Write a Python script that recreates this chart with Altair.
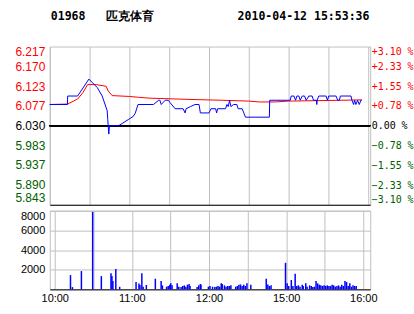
import altair as alt
import pandas as pd

# ---- data ----
prev_close = 6.030

price_min = [0, 13.3, 13.5, 21, 29.5, 35.8, 39.5, 43.3, 43.7, 44.5, 45, 52, 59.5, 63, 64.5, 66.5,
             78.2, 82, 83, 84, 87, 89.5, 90.5, 94.5, 100.5, 102, 102.75, 106, 109.5, 112.5, 113.5,
             120, 121.5, 125, 125.75, 126.5, 132.5, 133.5, 134.5, 135.5, 136.5, 138.5, 141, 142,
             145, 147.5, 165.5, 165.75, 181.25, 182, 184, 185.25, 186.25, 187.75, 188.75, 190.25,
             192, 193.25, 195.25, 197.75, 198.75, 201, 201.25, 201.5, 202.75, 208.25, 209.25,
             210.25, 215.75, 217, 218.25, 219, 227, 227.75, 229, 229.75, 230.75, 232, 233.25,
             234.5, 235.25]
price_val = [6.08, 6.08, 6.10, 6.10, 6.14, 6.12, 6.10, 6.065, 6.045, 6.01, 6.03, 6.03, 6.045, 6.052,
             6.06, 6.08, 6.08, 6.09, 6.09, 6.08, 6.09, 6.09, 6.085, 6.07, 6.07, 6.06, 6.07, 6.075,
             6.08, 6.08, 6.06, 6.06, 6.07, 6.07, 6.06, 6.07, 6.07, 6.08, 6.075, 6.09, 6.075, 6.08,
             6.08, 6.07, 6.07, 6.05, 6.05, 6.09, 6.09, 6.10, 6.10, 6.09, 6.10, 6.10, 6.09, 6.10,
             6.10, 6.09, 6.10, 6.10, 6.09, 6.09, 6.08, 6.09, 6.10, 6.10, 6.09, 6.10, 6.10, 6.09,
             6.09, 6.10, 6.10, 6.09, 6.08, 6.09, 6.08, 6.09, 6.08, 6.09, 6.09]

avg_min = [0, 13.5, 16, 21, 25, 28.5, 35, 42.5, 44, 47, 60, 67, 75, 105, 130, 150, 158, 170, 180,
           200, 220, 235.25]
avg_val = [6.080, 6.081, 6.085, 6.093, 6.108, 6.127, 6.127, 6.123, 6.112, 6.101, 6.099, 6.097,
           6.095, 6.092, 6.090, 6.088, 6.086, 6.086, 6.088, 6.089, 6.090, 6.091]

vol_min = [12.25, 13.75, 20.75, 29.5, 36.25, 43.75, 44.5, 45.25, 47.5, 50.5, 63.25, 65.5, 66.25,
           67.75, 68.75, 71.25, 78.25, 82.75, 83.75, 87, 88.25, 89.5, 90.25, 91.25, 95.25, 96.5,
           98.25, 99.5, 100.75, 102, 103.25, 104.5, 105.25, 110.75, 112, 113.25, 113.75, 119.5,
           120.75, 122.75, 124.5, 125.75, 127, 128.25, 129.5, 130.25, 132, 133.25, 134.5, 135.75,
           137, 140.75, 142, 143.25, 144.5, 145.75, 147, 148.25, 149.5, 152.5, 164.5, 165.75, 167,
           168.25, 179.5, 180.75, 182, 184, 185.25, 187, 188.25, 189.5, 190.75, 192.5, 193.25,
           195.25, 196.25, 198.25, 199.5, 200.75, 202, 203.25, 204.5, 205.75, 207, 208.25, 209.5,
           210.75, 212, 213.25, 214.5, 215.75, 217, 218.25, 219.5, 220.75, 222, 223.25, 224.5,
           225.75, 227, 228.25, 229.5, 230.75, 232, 233.25, 234.5]
vol_val = [1450, 230, 1860, 7880, 1350, 1650, 1350, 850, 2060, 260, 740, 600, 440, 1650, 260, 440,
           1080, 850, 400, 270, 340, 474, 609, 406, 609, 270, 237, 340, 406, 270, 474, 541, 340,
           237, 406, 541, 474, 270, 340, 270, 237, 270, 340, 270, 609, 541, 406, 270, 340, 340,
           406, 270, 340, 474, 500, 340, 474, 340, 609, 474, 1080, 500, 340, 406, 2700, 609, 340,
           947, 340, 1590, 340, 406, 270, 474, 340, 609, 270, 406, 340, 237, 270, 846, 609, 474,
           406, 340, 406, 340, 406, 340, 340, 474, 406, 270, 340, 406, 270, 474, 340, 846, 744,
           340, 609, 270, 406, 340, 340]

price_ticks = [5.843, 5.890, 5.937, 5.983, 6.030, 6.077, 6.123, 6.170, 6.217]
pct_ticks = [-3.10, -2.33, -1.55, -0.78, 0.00, 0.78, 1.55, 2.33, 3.10]
vol_ticks = [2000, 4000, 6000, 8000]
time_ticks = [0, 30, 60, 90, 120, 150, 180, 210, 240]
time_labels = ["10:00", "", "11:00", "", "12:00", "", "15:00", "", "16:00"]

title_code = "01968"
title_name = "匹克体育"
title_time = "2010-04-12 15:53:36"

# ---- build ----
price_df = pd.DataFrame({"m": price_min, "p": price_val})
avg_df = pd.DataFrame({"m": avg_min, "p": avg_val})
vol_df = pd.DataFrame({"m": vol_min, "v": vol_val})

GRID = "#c0c0c0"
RED = "#ff0000"
GREEN = "#006000"
NB = "\u00a0"

time_expr = " : ".join(f"datum.value == {t} ? '{l}'" for t, l in zip(time_ticks, time_labels)) + " : ''"

xscale = alt.Scale(domain=[0, 241.5], nice=False, zero=False)

x_price = alt.X("m:Q", scale=xscale,
                axis=alt.Axis(values=time_ticks, labels=False, ticks=False, title=None, grid=True,
                              gridColor=GRID, domainColor="black", labelPadding=0,
                              minExtent=0, maxExtent=0))
x_vol = alt.X("m:Q", scale=xscale,
              axis=alt.Axis(values=time_ticks, labelExpr=time_expr, ticks=False, title=None,
                            grid=True, gridColor=GRID, domainColor="black",
                            labelFont="Liberation Sans", labelFontSize=11, labelColor="black",
                            labelPadding=3, labelFlush=False, labelOverlap=False,
                            minExtent=18, maxExtent=18))

yscale = alt.Scale(domain=[price_ticks[0], price_ticks[-1]], nice=False, zero=False)
left_axis = alt.Axis(values=price_ticks, format=".3f", title=None, ticks=False, domain=False,
                     labelPadding=5, labelFont="Liberation Sans", labelFontSize=12,
                     labelFlush=True, labelFlushOffset=0,
                     gridColor=GRID, minExtent=36, maxExtent=36,
                     labelColor={"condition": [{"test": f"datum.value > {prev_close + 0.001}", "value": RED},
                                               {"test": f"datum.value < {prev_close - 0.001}", "value": GREEN}],
                                 "value": "black"})

rule = alt.Chart(avg_df).mark_rule(color="black", strokeWidth=1).encode(
    y=alt.datum(prev_close, scale=yscale, axis=left_axis))
avg_line = alt.Chart(avg_df).mark_line(color=RED, strokeWidth=1).encode(
    x=x_price, y=alt.Y("p:Q", scale=yscale, axis=left_axis))
price_line = alt.Chart(price_df).mark_line(color="#0000ff", strokeWidth=1).encode(
    x=x_price, y=alt.Y("p:Q", scale=yscale, axis=left_axis))

right_axis = alt.Axis(values=pct_ticks, orient="right", title=None, ticks=False,
                      domain=False, grid=False, labelAlign="left", labelPadding=1,
                      labelFont="DejaVu Sans Mono", labelFontSize=10,
                      labelFlush=True, labelFlushOffset=0,
                      minExtent=43, maxExtent=43,
                      labelExpr="(datum.value > 0.001 ? '+' : (datum.value < -0.001 ? '' : '" + NB + "')) + format(datum.value, '.2f') + ' %'",
                      labelColor={"condition": [{"test": "datum.value > 0.001", "value": RED},
                                                {"test": "datum.value < -0.001", "value": GREEN}],
                                  "value": "black"})
pct_layer = alt.Chart(avg_df).transform_calculate(
    pct=f"(datum.p - {prev_close}) / {prev_close} * 100"
).mark_line(opacity=0).encode(
    x=x_price,
    y=alt.Y("pct:Q", scale=alt.Scale(domain=[pct_ticks[0], pct_ticks[-1]], nice=False, zero=False),
            axis=right_axis))

price_panel = alt.layer(
    alt.layer(rule, avg_line, price_line), pct_layer
).resolve_scale(y="independent").properties(width=322, height=159)

vol_panel = alt.Chart(vol_df).mark_bar(color="#0000ff", size=1.5).encode(
    x=x_vol,
    y=alt.Y("v:Q", scale=alt.Scale(domain=[0, 8000], nice=False),
            axis=alt.Axis(values=vol_ticks, format="d", title=None, ticks=False, domain=False,
                          labelPadding=5, labelFont="Liberation Sans", labelFontSize=11,
                          labelFlush=True, labelFlushOffset=0,
                          labelColor="black", gridColor=GRID, minExtent=36, maxExtent=36))
).properties(width=322, height=79)

title_text = title_code + NB * 3 + title_name + NB * 12 + title_time

chart = alt.vconcat(price_panel, vol_panel, spacing=6, bounds="flush").properties(
    title=alt.TitleParams(text=title_text, anchor="start", frame="group", font="DejaVu Sans Mono",
                          fontSize=11.6, fontWeight="bold", color="black", dx=1, offset=22.5),
    padding={"left": 13, "top": 10, "right": 0, "bottom": 2},
    background="white",
).configure_view(stroke=GRID).configure_axis(gridOpacity=1)

chart.save("out.html", embed_options={"renderer": "svg", "actions": False})
